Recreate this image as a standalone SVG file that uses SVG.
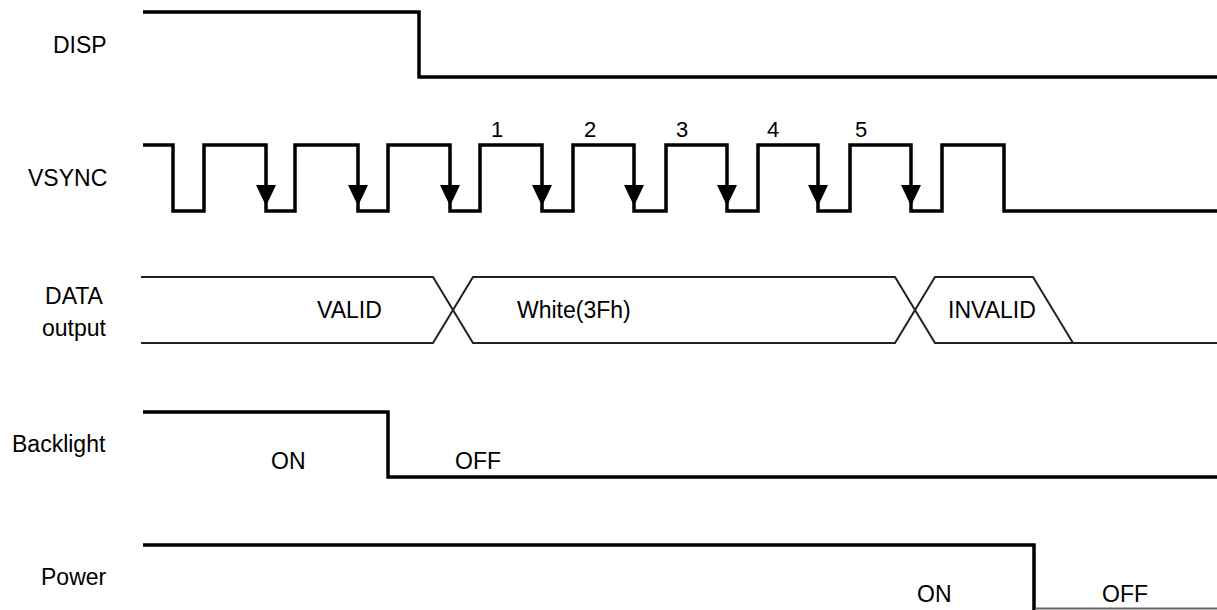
<svg xmlns="http://www.w3.org/2000/svg" width="1217" height="610" viewBox="0 0 1217 610">
<style>
.lbl{font-family:"Liberation Sans",Arial,sans-serif;font-size:23px;fill:#000}
.num{font-family:"Liberation Sans",Arial,sans-serif;font-size:22px;fill:#000;text-anchor:middle}
.sig{fill:none;stroke:#000;stroke-width:3.5;stroke-linejoin:miter;stroke-linecap:butt}
.bus{fill:none;stroke:#222;stroke-width:2}
.arr{fill:#000}
</style>
<rect width="1217" height="610" fill="#fff"/>
<g id="labels">
<text class="lbl" x="53" y="53">DISP</text>
<text class="lbl" x="28" y="186">VSYNC</text>
<text class="lbl" x="74" y="304" text-anchor="middle">DATA</text>
<text class="lbl" x="74" y="336" text-anchor="middle">output</text>
<text class="lbl" x="12" y="452">Backlight</text>
<text class="lbl" x="41" y="585">Power</text>
</g>
<g id="disp">
<path class="sig" d="M143 12 H419 V77 H1217"/>
</g>
<g id="vsync">
<path class="sig" d="M143 145 H173 V211 H204 V145 H266 V211 H295 V145 H358 V211 H388 V145 H450 V211 H480 V145 H542 V211 H573 V145 H634 V211 H666 V145 H727 V211 H758 V145 H818 V211 H850 V145 H911 V211 H942 V145 H1004 V211 H1217"/>
<g class="arr">
<path d="M256 185 H276 L266 206 Z"/>
<path d="M348 185 H368 L358 206 Z"/>
<path d="M440 185 H460 L450 206 Z"/>
<path d="M532 185 H552 L542 206 Z"/>
<path d="M624 185 H644 L634 206 Z"/>
<path d="M717 185 H737 L727 206 Z"/>
<path d="M808 185 H828 L818 206 Z"/>
<path d="M901 185 H921 L911 206 Z"/>
</g>
<text class="num" x="497" y="137">1</text>
<text class="num" x="590" y="137">2</text>
<text class="num" x="682" y="137">3</text>
<text class="num" x="773" y="137">4</text>
<text class="num" x="861" y="137">5</text>
</g>
<g id="data">
<path class="bus" d="M141 277 H433 L473 343 H895 L935 277 H1033 L1073 343"/>
<path class="bus" d="M141 343 H433 L473 277 H895 L935 343 H1217"/>
<text class="lbl" x="317" y="318">VALID</text>
<text class="lbl" x="517" y="318">White(3Fh)</text>
<text class="lbl" x="948" y="318">INVALID</text>
</g>
<g id="backlight">
<path class="sig" d="M143 412 H388 V477 H1217"/>
<text class="lbl" x="271" y="469">ON</text>
<text class="lbl" x="455" y="469">OFF</text>
</g>
<g id="power">
<path class="sig" d="M143 545 H1034 V610"/>
<path d="M1035 608.5 H1217" stroke="#666" stroke-width="2" fill="none"/>
<text class="lbl" x="917" y="602">ON</text>
<text class="lbl" x="1102" y="602">OFF</text>
</g>
</svg>
